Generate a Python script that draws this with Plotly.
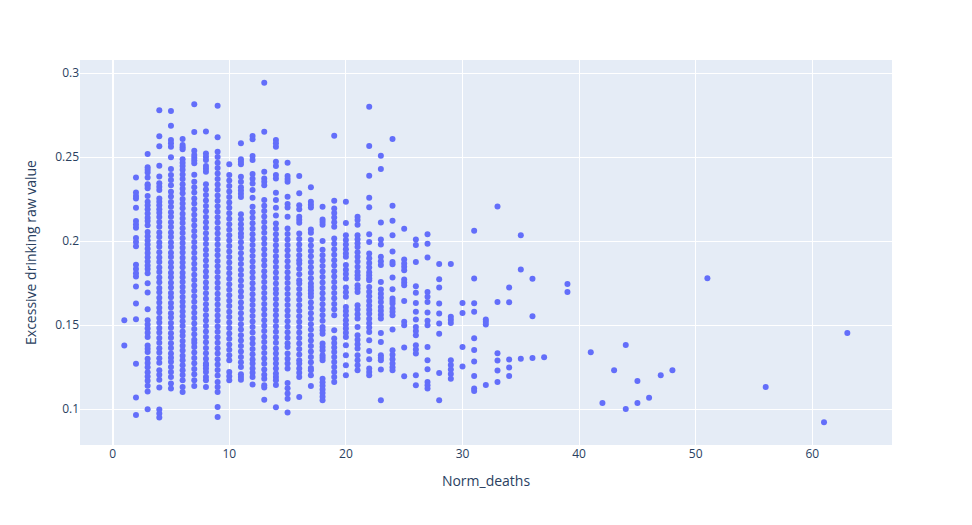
import plotly.graph_objects as go

# Excessive drinking raw value, grouped by Norm_deaths
d01 = [0.153, 0.138]
d02 = [0.238, 0.229, 0.227, 0.2255, 0.220, 0.212, 0.210, 0.208, 0.202, 0.1995, 0.197,
       0.186, 0.1835, 0.181, 0.179, 0.173, 0.163, 0.1535, 0.127, 0.107, 0.0965]
d03 = [0.252, 0.244, 0.2425, 0.241, 0.238, 0.234, 0.233, 0.2315, 0.227, 0.2235, 0.2215,
       0.219, 0.2165, 0.214, 0.212, 0.2095, 0.2055, 0.203, 0.2005, 0.198, 0.1955, 0.193,
       0.1905, 0.188, 0.1855, 0.1835, 0.181, 0.175, 0.1695, 0.1595, 0.153, 0.1505, 0.148,
       0.1455, 0.143, 0.138, 0.136, 0.134, 0.130, 0.1275, 0.125, 0.122, 0.1195, 0.117,
       0.114, 0.1105, 0.100]
d04 = [0.278, 0.2625, 0.2565, 0.245, 0.2385, 0.2345, 0.2325, 0.2305, 0.2255, 0.2235,
       0.2215, 0.219, 0.217, 0.2145, 0.2115, 0.2087, 0.2052, 0.2026, 0.1993, 0.1967,
       0.1934, 0.1903, 0.1876, 0.1843, 0.1817, 0.1784, 0.1756, 0.1722, 0.1697, 0.1663,
       0.1636, 0.1604, 0.1577, 0.1543, 0.1516, 0.1483, 0.1457, 0.1424, 0.1396, 0.1363,
       0.1337, 0.1303, 0.1276, 0.1232, 0.1205, 0.1175, 0.113, 0.0998, 0.0975, 0.095]
d05 = [0.2775, 0.2688, 0.2603, 0.2583, 0.2563, 0.250, 0.243, 0.2394, 0.2364, 0.2334,
       0.2294, 0.2266, 0.2233, 0.2205, 0.2172, 0.2146, 0.2113, 0.2085, 0.2052, 0.2026,
       0.1993, 0.1965, 0.1932, 0.1906, 0.1873, 0.1845, 0.1812, 0.1786, 0.1753, 0.1725,
       0.1692, 0.1666, 0.1633, 0.1605, 0.1572, 0.1546, 0.1513, 0.1485, 0.1452, 0.1426,
       0.1393, 0.1365, 0.1332, 0.1306, 0.1282, 0.1252, 0.1222, 0.1192, 0.1153, 0.1123]
d06 = [0.2608, 0.2573, 0.256, 0.2547, 0.2488, 0.2468, 0.2448, 0.2426, 0.2398, 0.2371,
       0.2340, 0.2312, 0.2285, 0.2251, 0.2224, 0.2196, 0.2163, 0.2135, 0.2108, 0.2077,
       0.2049, 0.2018, 0.1990, 0.1961, 0.1933, 0.1902, 0.1874, 0.1845, 0.1813, 0.1786,
       0.1757, 0.1727, 0.1699, 0.1668, 0.1640, 0.1611, 0.1582, 0.1553, 0.1524, 0.1495,
       0.1463, 0.1437, 0.1406, 0.1378, 0.1350, 0.1319, 0.1291, 0.1262, 0.1232, 0.1204,
       0.1173, 0.1132, 0.1103]
d07 = [0.2815, 0.265, 0.2539, 0.2513, 0.2497, 0.248, 0.2464, 0.2396, 0.2354, 0.2322,
       0.2290, 0.2255, 0.2224, 0.2190, 0.2158, 0.2127, 0.2093, 0.2061, 0.2029, 0.1996,
       0.1964, 0.1931, 0.1899, 0.1866, 0.1835, 0.1801, 0.1770, 0.1737, 0.1705, 0.1672,
       0.1640, 0.1607, 0.1575, 0.1543, 0.1510, 0.1478, 0.1446, 0.1413, 0.1395, 0.1370,
       0.1338, 0.1305, 0.1273, 0.1240, 0.1208, 0.1173, 0.1138]
d08 = [0.2654, 0.2523, 0.2503, 0.2483, 0.2448, 0.2431, 0.2414, 0.2340, 0.2308, 0.2275,
       0.2243, 0.2210, 0.2178, 0.2145, 0.2113, 0.2080, 0.2048, 0.2015, 0.1983, 0.1950,
       0.1918, 0.1885, 0.1853, 0.1820, 0.1788, 0.1755, 0.1723, 0.1690, 0.1658, 0.1625,
       0.1593, 0.1560, 0.1528, 0.1495, 0.1463, 0.1430, 0.1398, 0.1365, 0.1333, 0.1300,
       0.1272, 0.1262, 0.1242, 0.1222, 0.1192, 0.1173, 0.1132]
d09 = [0.2807, 0.2619, 0.2533, 0.2501, 0.2468, 0.2436, 0.2403, 0.2371, 0.2338, 0.2306,
       0.2273, 0.2241, 0.2208, 0.2176, 0.2143, 0.2111, 0.2078, 0.2046, 0.2013, 0.1981,
       0.1948, 0.1916, 0.1883, 0.1851, 0.1818, 0.1786, 0.1753, 0.1721, 0.1688, 0.1656,
       0.1623, 0.1591, 0.1558, 0.1526, 0.1493, 0.1461, 0.1428, 0.1396, 0.1363, 0.1331,
       0.1298, 0.1266, 0.1233, 0.1201, 0.1162, 0.1132, 0.1103, 0.1013, 0.0953]
d10 = [0.2458, 0.2394, 0.2361, 0.2329, 0.2296, 0.2264, 0.2231, 0.2199, 0.2166, 0.2134,
       0.2101, 0.2069, 0.2036, 0.2004, 0.1971, 0.1939, 0.1906, 0.1874, 0.1841, 0.1809,
       0.1776, 0.1744, 0.1711, 0.1679, 0.1646, 0.1614, 0.1581, 0.1549, 0.1516, 0.1484,
       0.1451, 0.1419, 0.1386, 0.1354, 0.1321, 0.1291, 0.1222, 0.1197, 0.1173]
d11 = [0.2583, 0.2488, 0.2473, 0.2459, 0.2384, 0.2354, 0.2321, 0.2302, 0.2283, 0.2264,
       0.2161, 0.2131, 0.2101, 0.2074, 0.2046, 0.2026, 0.1994, 0.1961, 0.1929, 0.1896,
       0.1864, 0.1831, 0.1799, 0.1766, 0.1734, 0.1701, 0.1669, 0.1636, 0.1604, 0.1571,
       0.1539, 0.1506, 0.1474, 0.1441, 0.1409, 0.1376, 0.1344, 0.1311, 0.1280, 0.1252,
       0.1208, 0.1192, 0.1176]
d12 = [0.2626, 0.2607, 0.2507, 0.2483, 0.2400, 0.2372, 0.2344, 0.2305, 0.2259, 0.2205,
       0.2172, 0.2140, 0.2107, 0.2075, 0.2042, 0.2010, 0.1977, 0.1945, 0.1912, 0.1880,
       0.1847, 0.1815, 0.1782, 0.1750, 0.1717, 0.1685, 0.1652, 0.1620, 0.1587, 0.1555,
       0.1522, 0.1490, 0.1457, 0.1421, 0.1391, 0.1359, 0.1327, 0.1296, 0.1272, 0.1242,
       0.1217, 0.1192, 0.1147]
d13 = [0.2944, 0.2652, 0.2414, 0.2374, 0.2354, 0.2334, 0.2245, 0.2212, 0.2180, 0.2147,
       0.2115, 0.2082, 0.2050, 0.2017, 0.1985, 0.1952, 0.1920, 0.1887, 0.1855, 0.1822,
       0.1790, 0.1757, 0.1725, 0.1692, 0.1660, 0.1627, 0.1595, 0.1562, 0.1530, 0.1497,
       0.1465, 0.1432, 0.1400, 0.1367, 0.1335, 0.1302, 0.1270, 0.1237, 0.1205, 0.1182,
       0.1143, 0.1129, 0.1057]
d14 = [0.2603, 0.2583, 0.2563, 0.2473, 0.2448, 0.2394, 0.2374, 0.2288, 0.2245, 0.2199,
       0.2154, 0.2106, 0.2074, 0.2041, 0.2009, 0.1976, 0.1944, 0.1911, 0.1879, 0.1846,
       0.1814, 0.1781, 0.1749, 0.1716, 0.1689, 0.1656, 0.1624, 0.1591, 0.1559, 0.1526,
       0.1494, 0.1461, 0.1429, 0.1396, 0.1361, 0.1331, 0.1301, 0.1272, 0.1242, 0.1212,
       0.1192, 0.1173, 0.1144, 0.1011]
d15 = [0.2467, 0.2388, 0.2371, 0.2354, 0.2265, 0.2221, 0.2201, 0.2146, 0.2076, 0.2043,
       0.2011, 0.1978, 0.1946, 0.1913, 0.1881, 0.1848, 0.1816, 0.1783, 0.1751, 0.1718,
       0.1686, 0.1653, 0.1621, 0.1588, 0.1556, 0.1523, 0.1491, 0.1458, 0.1426, 0.1393,
       0.1371, 0.1331, 0.1301, 0.1272, 0.1242, 0.1156, 0.1125, 0.1094, 0.1063, 0.098]
d16 = [0.2388, 0.2285, 0.2215, 0.2191, 0.2146, 0.2128, 0.211, 0.2046, 0.2014, 0.1981,
       0.1949, 0.1917, 0.1887, 0.1868, 0.1836, 0.1803, 0.1768, 0.1749, 0.1716, 0.1684,
       0.1651, 0.1619, 0.1586, 0.1554, 0.1521, 0.1489, 0.1456, 0.1424, 0.1391, 0.1359,
       0.1326, 0.1291, 0.1272, 0.1242, 0.1217, 0.1192, 0.1073]
d17 = [0.2322, 0.2235, 0.2218, 0.2201, 0.207, 0.205, 0.2007, 0.1975, 0.1942, 0.1910,
       0.1877, 0.1845, 0.1812, 0.1780, 0.1749, 0.1728, 0.1708, 0.1689, 0.1669, 0.1636,
       0.1604, 0.1571, 0.1539, 0.1506, 0.1474, 0.1441, 0.1409, 0.1376, 0.1344, 0.1311,
       0.1279, 0.1246, 0.1232, 0.1202, 0.1138]
d18 = [0.2205, 0.213, 0.2114, 0.2098, 0.2001, 0.1950, 0.1917, 0.1885, 0.1852, 0.1820,
       0.1787, 0.1755, 0.1722, 0.1690, 0.1657, 0.1625, 0.1592, 0.1560, 0.1527, 0.1490,
       0.147, 0.145, 0.1391, 0.1371, 0.1351, 0.1321, 0.1306, 0.1291, 0.1182, 0.1160,
       0.1139, 0.1117, 0.1096, 0.1074, 0.1053]
d19 = [0.2628, 0.2241, 0.2195, 0.2168, 0.2141, 0.2113, 0.2086, 0.2017, 0.1985, 0.1952,
       0.1920, 0.1887, 0.1855, 0.1822, 0.1790, 0.1757, 0.1725, 0.1692, 0.1660, 0.1627,
       0.1595, 0.1560, 0.147, 0.1421, 0.1394, 0.1368, 0.1341, 0.1311, 0.1281, 0.1251,
       0.1222, 0.1192, 0.1162]
d20 = [0.2235, 0.2108, 0.2036, 0.2008, 0.1980, 0.1953, 0.1927, 0.1907, 0.1858, 0.1831,
       0.1805, 0.1778, 0.1725, 0.1697, 0.1669, 0.1609, 0.1585, 0.156, 0.153, 0.1505,
       0.148, 0.1455, 0.143, 0.1381, 0.1321, 0.1262, 0.1202]
d21 = [0.2146, 0.2126, 0.2098, 0.2036, 0.2012, 0.1988, 0.1965, 0.1935, 0.1908, 0.1880,
       0.1848, 0.1818, 0.1798, 0.1778, 0.1738, 0.1718, 0.1698, 0.1619, 0.1593, 0.1566,
       0.154, 0.149, 0.144, 0.1413, 0.1387, 0.1361, 0.1321, 0.1291, 0.1262, 0.1232]
d22 = [0.280, 0.2567, 0.239, 0.2259, 0.2203, 0.2042, 0.1995, 0.1927, 0.1899, 0.1871,
       0.1843, 0.1815, 0.1798, 0.178, 0.1768, 0.1728, 0.1700, 0.1672, 0.1645, 0.1618,
       0.1592, 0.1569, 0.1539, 0.1512, 0.1486, 0.1459, 0.1411, 0.1347, 0.1297, 0.1242,
       0.1222, 0.1202]
d23 = [0.2509, 0.243, 0.2112, 0.2011, 0.1981, 0.1907, 0.1881, 0.1858, 0.1758, 0.1713,
       0.1688, 0.1663, 0.1639, 0.1609, 0.1586, 0.1563, 0.154, 0.1454, 0.140, 0.1321,
       0.1306, 0.1291, 0.1236, 0.1053]
d24 = [0.2608, 0.2211, 0.2122, 0.2036, 0.1939, 0.1877, 0.1863, 0.1784, 0.1714, 0.1659,
       0.1644, 0.1629, 0.160, 0.158, 0.156, 0.1474, 0.1351, 0.1325, 0.1298, 0.1272,
       0.1250, 0.1232]
d25 = [0.2074, 0.1892, 0.1868, 0.1848, 0.1828, 0.1772, 0.1755, 0.1738, 0.1645, 0.152,
       0.150, 0.1367, 0.1196]
d26 = [0.2011, 0.1977, 0.1877, 0.1732, 0.1693, 0.1633, 0.158, 0.1534, 0.149, 0.1465,
       0.144, 0.1381, 0.1356, 0.1331, 0.1202, 0.1142]
d27 = [0.2042, 0.1985, 0.1903, 0.1698, 0.1669, 0.1639, 0.1576, 0.1526, 0.150, 0.1371,
       0.1291, 0.1238, 0.1162, 0.1142, 0.1123]
d28 = [0.1864, 0.1774, 0.1725, 0.1629, 0.157, 0.151, 0.145, 0.1216, 0.1053]
d29 = [0.1864, 0.155, 0.1532, 0.1514, 0.1291, 0.1263, 0.1236, 0.1209, 0.1182]

dense_deaths = list(range(1, 30))
dense_columns = [d01, d02, d03, d04, d05, d06, d07, d08, d09, d10,
                 d11, d12, d13, d14, d15, d16, d17, d18, d19, d20,
                 d21, d22, d23, d24, d25, d26, d27, d28, d29]

# sparse tail, one entry per point
tail_deaths = [30, 30, 30, 30,
               31, 31, 31, 31, 31, 31, 31, 31, 31, 31,
               32, 32, 32, 32,
               33, 33, 33, 33, 33, 33,
               34, 34, 34, 34, 34,
               35, 35, 35,
               36, 36, 36,
               37, 39, 39, 41, 42, 43, 44, 44, 45, 45, 46, 47, 48, 51, 56, 61, 63]
tail_drinking = [0.1633, 0.1573, 0.1371, 0.1254,
                 0.2062, 0.1778, 0.1631, 0.158, 0.1422, 0.1353, 0.1284, 0.1198, 0.1123, 0.1109,
                 0.1534, 0.152, 0.1505, 0.1144,
                 0.2207, 0.1639, 0.1333, 0.129, 0.123, 0.1162,
                 0.1725, 0.1637, 0.1296, 0.1248, 0.1198,
                 0.2036, 0.1832, 0.1301,
                 0.1776, 0.1553, 0.1305,
                 0.1309, 0.1746, 0.1698, 0.1339, 0.1037, 0.1232, 0.1383, 0.1001, 0.1168,
                 0.1037, 0.1069, 0.1202, 0.1232, 0.178, 0.1132, 0.0922, 0.1454]

x = []
y = []
for deaths, col in zip(dense_deaths, dense_columns):
    for v in col:
        x.append(deaths)
        y.append(v)
x += tail_deaths
y += tail_drinking

fig = go.Figure()
fig.add_trace(go.Scatter(x=x, y=y, mode="markers",
                         marker=dict(color="#636efa", size=6, symbol="circle")))

# page body adds an 8px offset, so margins are shifted to land the plot area
# where the original one sits
fig.update_layout(
    template="plotly",
    width=972,
    height=525,
    margin=dict(l=72, r=88, t=52, b=88),
    showlegend=False,
    xaxis=dict(title="Norm_deaths", range=[-2.8, 66.83]),
    yaxis=dict(title="Excessive drinking raw value", range=[0.0787, 0.3079]),
)

fig.write_html("out.html")
